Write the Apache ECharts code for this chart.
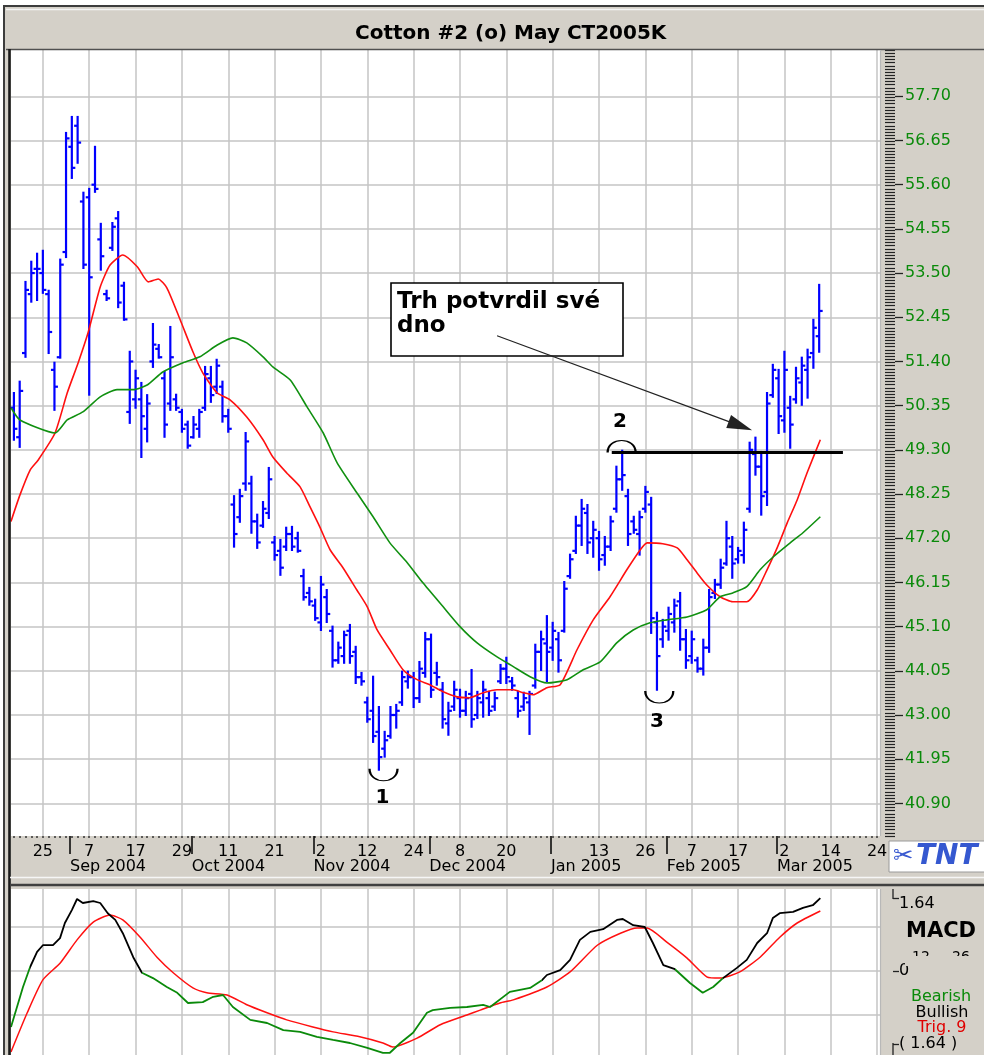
<!DOCTYPE html>
<html><head><meta charset="utf-8">
<script src="https://cdn.jsdelivr.net/npm/echarts@6/dist/echarts.min.js"></script>
<style>
html,body{margin:0;padding:0;background:#fff;overflow:hidden;width:984px;height:1055px;}
#frame{position:absolute;left:3px;top:5px;width:990px;height:1060px;background:#d4d0c8;border:2px solid #3c3c3c;box-sizing:border-box;}
#chart{position:absolute;left:0;top:0;width:984px;height:1055px;}
</style></head><body>
<div id="frame"></div><div id="chart"></div>
<script>
// ---------- categories: trading days ----------
const tradingDays = [
  ['2004-08',[18,19,20,23,24,25,26,27,30,31]],
  ['2004-09',[1,2,3,7,8,9,10,13,14,15,16,17,20,21,22,23,24,27,28,29,30]],
  ['2004-10',[1,4,5,6,7,8,11,12,13,14,15,18,19,20,21,22,25,26,27,28,29]],
  ['2004-11',[1,2,3,4,5,8,9,10,11,12,15,16,17,18,19,22,23,24,29,30]],
  ['2004-12',[1,2,3,6,7,8,9,10,13,14,15,16,17,20,21,22,23,27,28,29,30]],
  ['2005-01',[3,4,5,6,7,10,11,12,13,14,18,19,20,21,24,25,26,27,28,31]],
  ['2005-02',[1,2,3,4,7,8,9,10,11,14,15,16,17,18,22,23,24,25,28]],
  ['2005-03',[1,2,3,4,7,8,9,10,11,14,15,16,17,18,21,22,23,24]]
];
const monthNames = ['Jan','Feb','Mar','Apr','May','Jun','Jul','Aug','Sep','Oct','Nov','Dec'];
const dayTickIdx  = [5,13,21,29,37,45,53,61,69,77,85,93,101,109,117,125,133,141,149];
const dayLabelIdx = [5,13,21,29,37,45,53,61,69,77,85,101,109,117,125,133,141,149];
const priceTicks = [40.90,41.95,43.00,44.05,45.10,46.15,47.20,48.25,49.30,50.35,51.40,52.45,53.50,54.55,55.60,56.65,57.70];

// ---------- OHLC (cents/lb) ----------
const openP = [50.3,49.6,51.6,53.0,53.6,53.5,53.0,51.2,51.5,54.0,
56.5,57.0,55.2,55.3,55.6,54.3,53.0,54.1,54.8,53.2,
50.2,50.5,50.5,49.8,51.4,51.7,51.0,50.4,50.5,50.2,
49.9,49.6,49.8,50.3,51.0,50.8,50.8,50.1,48.0,47.7,
48.5,48.5,47.6,47.5,47.8,47.1,46.9,47.0,47.3,47.2,
46.3,45.9,45.6,45.2,45.8,45.0,44.3,44.4,45.0,44.5,
43.9,43.3,43.1,42.6,42.2,42.5,43.0,43.3,43.8,43.9,
43.4,44.0,44.8,44.0,43.6,42.8,43.2,43.4,43.1,43.5,
43.0,43.3,43.4,43.2,43.8,44.1,43.8,43.4,43.2,43.3,
43.7,44.5,44.7,44.6,44.8,45.0,46.3,46.9,47.5,47.8,
47.2,47.2,46.8,47.0,47.9,48.6,48.2,47.6,47.3,47.9,
48.0,45.2,44.8,45.0,45.2,45.7,44.8,44.4,44.3,44.1,
44.6,45.9,46.1,46.6,47.0,46.7,46.8,47.9,49.2,48.9,
48.3,50.6,51.0,50.0,50.3,50.5,50.9,51.2,51.6,52.0];
const highP = [50.65,50.92,53.29,53.77,53.96,54.03,53.08,51.37,53.82,56.83,
57.21,57.21,55.41,55.50,56.50,54.67,53.08,54.69,54.95,53.27,
51.63,51.18,50.89,50.60,52.29,51.79,51.15,52.22,50.61,50.25,
49.97,50.08,50.25,51.27,51.27,51.44,50.92,50.25,48.20,48.35,
49.70,48.66,47.76,48.06,48.87,47.23,47.16,47.45,47.47,47.33,
46.45,46.02,45.74,46.28,45.97,45.10,44.72,44.98,45.14,44.62,
44.00,43.41,43.91,43.19,42.60,43.19,43.24,44.03,44.03,44.00,
44.26,44.95,44.91,44.24,43.76,43.29,43.79,43.60,43.55,44.07,
43.55,43.79,43.55,43.53,44.19,44.36,43.88,43.55,43.53,43.55,
44.67,44.98,45.35,45.19,44.95,46.16,46.81,47.71,48.11,47.99,
47.59,47.35,47.23,47.71,48.90,49.28,48.35,47.71,47.83,48.42,
48.16,45.43,45.26,45.55,45.74,45.90,45.02,44.98,44.36,44.79,
45.97,46.21,46.69,47.59,47.23,46.97,47.57,49.47,49.59,49.25,
50.65,51.32,51.20,51.63,50.56,51.25,51.49,51.68,52.39,53.22];
const lowP = [49.54,49.37,51.51,52.82,52.86,53.03,51.60,50.25,51.49,53.88,
55.76,56.12,53.62,50.61,55.43,53.58,52.86,54.05,52.69,52.39,
49.94,50.30,49.13,49.50,51.27,51.49,49.61,50.25,50.25,49.73,
49.35,49.59,49.61,50.25,50.44,50.65,49.97,49.73,47.00,47.59,
48.35,47.33,46.97,47.47,47.68,46.69,46.33,46.92,46.92,46.88,
45.74,45.62,45.26,45.02,45.21,44.15,44.24,44.24,44.24,43.76,
43.72,42.84,42.36,41.70,42.01,42.46,42.70,43.24,43.65,43.19,
43.31,43.91,43.43,43.72,42.70,42.53,43.12,42.96,43.00,42.72,
42.93,42.96,43.00,43.12,43.76,43.76,43.60,42.96,43.12,42.55,
43.65,44.07,43.80,44.31,44.03,44.98,46.26,46.85,47.04,46.85,
46.76,46.45,46.57,46.92,47.83,48.35,47.04,47.33,46.81,47.83,
44.95,43.60,44.62,44.79,44.98,44.55,44.12,44.24,44.03,43.96,
44.50,45.78,46.02,46.57,46.26,46.62,46.62,47.83,48.71,47.76,
47.99,50.56,49.70,49.73,49.35,50.42,50.37,50.54,51.25,51.63];
const closeP = [49.8,50.7,53.1,53.5,53.6,53.1,52.1,50.8,53.7,56.7,
56.0,56.6,53.7,53.4,55.5,53.9,52.9,54.6,52.8,52.4,
51.4,51.0,50.1,50.4,51.8,51.5,49.9,51.5,50.3,49.8,
49.4,49.9,50.2,51.1,50.6,51.3,50.1,49.8,47.3,48.2,
49.5,47.6,47.1,47.9,48.6,46.8,46.5,47.3,47.0,46.9,
45.8,45.7,45.3,46.1,45.4,44.3,44.6,44.9,44.4,43.9,
43.8,42.9,42.5,42.0,42.4,43.0,43.1,43.9,43.9,43.4,
44.1,44.8,43.6,43.9,42.9,43.1,43.6,43.1,43.4,42.9,
43.4,43.6,43.1,43.4,44.1,43.9,43.7,43.1,43.4,43.5,
44.5,44.8,44.5,45.0,44.3,46.0,46.7,47.5,47.9,47.1,
47.4,46.7,47.0,47.6,48.6,48.7,47.3,47.4,47.7,48.3,
45.3,44.4,45.1,45.4,45.6,44.8,44.3,44.8,44.1,44.6,
45.8,46.1,46.5,47.2,46.6,46.9,47.4,49.3,48.9,48.2,
50.4,51.2,50.1,51.2,49.9,51.0,51.3,51.5,52.2,52.6];

// ---------- moving averages: [bar index, price] ----------
const redMA = [[-0.5,47.60],[1.05,48.23],[2.8,48.82],[4.2,49.06],[7.1,49.70],[9.2,50.65],[11.1,51.37],[12.8,52.08],[14.9,53.17],[16.6,53.69],[18.8,53.93],[21.3,53.65],[23.2,53.29],[24.9,53.36],[26.4,53.15],[28.7,52.39],[30.9,51.63],[32.6,51.13],[35.1,50.65],[37.3,50.49],[40.2,50.08],[43,49.54],[44.7,49.13],[47.1,48.75],[49.4,48.42],[51.1,47.95],[52.8,47.47],[54.6,46.92],[56.8,46.50],[59.2,45.97],[61,45.57],[62.7,45.02],[64.9,44.55],[67.2,44.07],[69.6,43.84],[71.8,43.72],[74.1,43.55],[76.5,43.43],[78.7,43.41],[81,43.53],[83.4,43.60],[86.2,43.60],[87.9,43.53],[89.6,43.48],[92,43.65],[94.3,43.72],[97.2,44.55],[100,45.26],[102.9,45.81],[105.8,46.45],[108.1,46.92],[109.3,47.09],[112,47.07],[114.5,46.97],[116.2,46.69],[117.9,46.38],[119.6,46.09],[121.9,45.81],[124.1,45.69],[126.5,45.69],[128.3,45.97],[130,46.45],[131.8,46.99],[133.5,47.57],[135.2,48.11],[136.9,48.75],[139.2,49.54]];
const greenMA = [[-0.5,50.30],[1.05,50.01],[7.1,49.70],[9.2,50.01],[11.9,50.20],[14.9,50.56],[17.8,50.73],[20.6,50.73],[23,50.84],[25.7,51.15],[29.2,51.37],[32.1,51.51],[35.1,51.79],[37.8,51.96],[40.2,51.84],[43,51.51],[44.7,51.27],[47.7,50.96],[50.6,50.32],[53.4,49.70],[55.8,48.99],[59.2,48.28],[62,47.71],[64.9,47.09],[67.9,46.62],[70.6,46.14],[74.1,45.57],[77,45.10],[79.9,44.72],[83.4,44.38],[86.2,44.15],[89.1,43.91],[92,43.76],[95.5,43.84],[98.2,44.07],[101.2,44.26],[104.1,44.72],[106.9,45.02],[109.8,45.19],[112.7,45.26],[116.2,45.33],[119.6,45.50],[121.9,45.81],[124.1,45.90],[126.5,46.05],[128.8,46.45],[131.1,46.76],[134,47.09],[136.2,47.33],[139.2,47.71]];

// ---------- MACD (12,26) and trigger (9) ----------
const macdLine = [[-0.5,-1.26],[1.57,-0.36],[2.8,0.09],[4,0.43],[5,0.58],[6.75,0.58],[7.96,0.74],[8.8,1.08],[10,1.37],[10.9,1.62],[11.9,1.53],[13.7,1.57],[14.9,1.53],[16.2,1.30],[17.5,1.15],[18.8,0.85],[20.6,0.31],[22.1,-0.04],[24,-0.16],[26.4,-0.36],[28.2,-0.49],[30.05,-0.72],[32.6,-0.70],[34.4,-0.58],[36.1,-0.54],[37.8,-0.81],[40.8,-1.10],[43.7,-1.17],[46.5,-1.33],[49.4,-1.37],[52.3,-1.48],[55.1,-1.55],[58,-1.62],[61,-1.73],[63.7,-1.84],[64.9,-1.84],[66.7,-1.62],[68.9,-1.39],[71.3,-0.94],[72.3,-0.88],[75.3,-0.83],[78.2,-0.81],[81,-0.76],[82.2,-0.81],[85.6,-0.47],[89.1,-0.38],[91.2,-0.20],[92,-0.09],[94.3,0.02],[96,0.25],[97.7,0.70],[99.5,0.88],[101.7,0.94],[104.1,1.15],[105.1,1.17],[106.9,1.03],[108.9,0.99],[110.3,0.63],[112.1,0.13],[114.1,0.04],[116.7,-0.27],[118.9,-0.49],[120.7,-0.36],[122.4,-0.16],[124.8,0.07],[126.5,0.25],[128.3,0.63],[130,0.85],[131,1.19],[132.2,1.30],[134.5,1.33],[136.2,1.42],[137.9,1.48],[139.2,1.64]];
const signalLine = [[-0.5,-1.82],[2.3,-0.94],[5,-0.20],[8,0.18],[10.9,0.70],[13.7,1.10],[16.6,1.26],[18.8,1.15],[21.8,0.76],[24.7,0.31],[27.5,-0.04],[30.9,-0.38],[33.3,-0.49],[36.8,-0.54],[40.2,-0.76],[43.7,-0.94],[47.1,-1.10],[51.6,-1.26],[55.1,-1.37],[59.7,-1.48],[63.7,-1.62],[65.4,-1.71],[69.6,-1.51],[73.6,-1.21],[78.2,-0.99],[80.5,-0.88],[83.9,-0.72],[86.2,-0.65],[92,-0.36],[96,-0.02],[100.7,0.58],[104.7,0.85],[107.6,0.97],[109.3,0.97],[112.7,0.65],[116.2,0.29],[119.6,-0.13],[121.9,-0.16],[125.3,-0.02],[128.8,0.31],[132.2,0.76],[135.2,1.08],[139.2,1.35]];
// bar positions where the MACD line switches colour (bearish green <-> bullish black), first span bearish
const macdColorBreaks = [2.8, 22.1, 91.2, 114.1, 122.4];
const macdAxisLabels = [1.64, 0, -1.64];
const macdGrid = [-0.99, 0, 0.99];

// ---------- build ----------
const dates = [];
tradingDays.forEach(([ym, days]) => days.forEach(d => dates.push(ym + '-' + String(d).padStart(2,'0'))));
const N = dates.length;
const allIdx = dates.map((d,i)=>i);
const monthStarts = [];
for (let i = 1; i < N; i++) if (dates[i].slice(0,7) !== dates[i-1].slice(0,7)) monthStarts.push(i);
const monthBounds = monthStarts.map(i => i - 0.3);
const ohlc = openP.map((o,i)=>[i, o, highP[i], lowP[i], closeP[i]]);

const GREEN = '#0a8a0a', BLUE = '#0000ff', RED = '#ff1010';
const FONT = 'DejaVu Sans';
const pieces = [];
let prev = -100;
macdColorBreaks.forEach((b,k)=>{ pieces.push({gte: prev, lt: b, color: k%2===0 ? GREEN : '#000'}); prev = b; });
pieces.push({gte: prev, lte: 1000, color: macdColorBreaks.length%2===0 ? GREEN : '#000'});

const gridLineStyle = {color:'#c4c4c4', width:1.5};
const noLine = {show:false, onZero:false};
const xBase = {type:'value', min:-0.5, max:N-0.5, axisLine:noLine};

const smile = 'path://M0,0 C0,14 30,14 30,0';
const frown = 'path://M0,14 C0,0 30,0 30,14';
const arcStyle = {color:'rgba(0,0,0,0)', borderColor:'#000', borderWidth:1.5};
const numLabel = t => ({show:true, position:'inside', formatter:t, fontSize:20, fontWeight:'bold', fontFamily:FONT, color:'#000'});

const chart = echarts.init(document.getElementById('chart'), null, {renderer:'canvas'});
chart.setOption({
  animation:false,
  backgroundColor:'transparent',
  title:{text:'Cotton #2 (o) May CT2005K', left:350, top:19,
    textStyle:{fontFamily:FONT, fontWeight:'bold', fontSize:20, color:'#000'}},
  grid:[
    {left:11, top:50, width:869, height:786, show:true, backgroundColor:'#fff', borderWidth:0, outerBoundsMode:'none'},
    {left:11, top:889, width:869, height:166, show:true, backgroundColor:'#fff', borderWidth:0, outerBoundsMode:'none'}
  ],
  xAxis:[
    Object.assign({}, xBase, {gridIndex:0, position:'bottom',
      axisTick:{show:false, customValues:dayTickIdx},
      splitLine:{show:true, lineStyle:gridLineStyle},
      axisLabel:{customValues:dayLabelIdx, margin:8, fontSize:16, fontFamily:FONT, color:'#000',
        formatter:v=>String(Number(dates[Math.round(v)].slice(8)))}}),
    Object.assign({}, xBase, {gridIndex:0, position:'bottom',
      axisTick:{show:true, customValues:allIdx, length:2, lineStyle:{color:'#333', width:1.5}},
      splitLine:{show:false}, axisLabel:{show:false}}),
    Object.assign({}, xBase, {gridIndex:0, position:'bottom',
      axisTick:{show:true, customValues:monthBounds, length:18, lineStyle:{color:'#000', width:1.5}},
      splitLine:{show:false},
      axisLabel:{customValues:monthBounds, margin:23, align:'left', fontSize:16, fontFamily:FONT, color:'#000',
        formatter:v=>{const d = dates[Math.round(v+0.3)]; return monthNames[Number(d.slice(5,7))-1]+' '+d.slice(0,4);}}}),
    Object.assign({}, xBase, {gridIndex:1, position:'bottom',
      axisTick:{show:false, customValues:dayTickIdx},
      splitLine:{show:true, lineStyle:gridLineStyle}, axisLabel:{show:false}})
  ],
  yAxis:[
    {gridIndex:0, type:'value', position:'right', offset:15, min:40.125, max:58.8,
      axisLine:noLine,
      axisTick:{show:true, customValues:priceTicks, length:8, lineStyle:{color:'#222', width:1.3}},
      splitLine:{show:true, lineStyle:gridLineStyle},
      axisLabel:{customValues:priceTicks, margin:10, fontSize:16, fontFamily:FONT, color:GREEN, formatter:v=>v.toFixed(2)}},
    // dense tick comb next to the price scale (left-type axis pushed to the right edge)
    {gridIndex:0, type:'value', position:'left', offset:-884, min:40.125, max:58.8, interval:0.075,
      axisLine:noLine, axisTick:{show:true, length:10, lineStyle:{color:'#222', width:1.2}},
      splitLine:{show:false}, axisLabel:{show:false}},
    {gridIndex:1, type:'value', position:'left', min:-1.89, max:1.845,
      axisLine:noLine, axisTick:{show:false, customValues:macdGrid},
      splitLine:{show:true, lineStyle:gridLineStyle}, axisLabel:{show:false}},
    {gridIndex:1, type:'value', position:'right', offset:13, min:-1.89, max:1.845,
      axisLine:noLine,
      axisTick:{show:true, customValues:macdAxisLabels, length:6, lineStyle:{color:'#222', width:1.3}},
      splitLine:{show:false},
      axisLabel:{customValues:macdAxisLabels, margin:6, fontSize:16, fontFamily:FONT, color:'#000',
        formatter:v=> v>0 ? '{t|'+v.toFixed(2)+'}' : (v<0 ? '( '+Math.abs(v).toFixed(2)+' )' : '0'),
        rich:{t:{fontSize:16, fontFamily:FONT, color:'#000', padding:[12,0,0,0]}}}}
  ],
  visualMap:[{type:'piecewise', show:false, seriesIndex:3, dimension:0, pieces:pieces}],
  series:[
    {type:'custom', name:'Cotton', xAxisIndex:0, yAxisIndex:0, data:ohlc, encode:{x:0, y:[1,2,3,4]},
      renderItem:(params, api)=>{
        const x = api.value(0);
        const pO = api.coord([x, api.value(1)]), pH = api.coord([x, api.value(2)]);
        const pL = api.coord([x, api.value(3)]), pC = api.coord([x, api.value(4)]);
        const st = {stroke:BLUE, lineWidth:2.2};
        return {type:'group', children:[
          {type:'line', shape:{x1:pH[0], y1:pH[1]-1, x2:pL[0], y2:pL[1]+1}, style:st},
          {type:'line', shape:{x1:pO[0]-3.5, y1:pO[1], x2:pO[0], y2:pO[1]}, style:st},
          {type:'line', shape:{x1:pC[0], y1:pC[1], x2:pC[0]+3.5, y2:pC[1]}, style:st}
        ]};
      }},
    {type:'line', name:'MA fast', xAxisIndex:0, yAxisIndex:0, data:redMA, showSymbol:false, smooth:0.2,
      lineStyle:{color:RED, width:1.6}, z:3,
      markLine:{silent:true, symbol:'none', label:{show:false}, animation:false,
        data:[
          [{coord:[103.2,49.24], lineStyle:{color:'#000', width:3.2, type:'solid'}}, {coord:[143.1,49.24]}],
          [{coord:[83.4,52.01], symbol:'none', lineStyle:{color:'#222', width:1.2, type:'solid'}},
           {coord:[125.4,49.87], symbol:'path://M7,0 L14,25 L0,25 Z', symbolSize:25, symbolKeepAspect:true}]
        ]},
      markPoint:{silent:true, animation:false,
        data:[
          {coord:[63.8,41.58], symbol:smile, symbolSize:[28,12], itemStyle:arcStyle, label:{show:false}},
          {coord:[104.9,49.38], symbol:frown, symbolSize:[28,12], itemStyle:arcStyle, label:{show:false}},
          {coord:[111.4,43.43], symbol:smile, symbolSize:[28,12], itemStyle:arcStyle, label:{show:false}},
          {coord:[63.6,41.03], symbol:'circle', symbolSize:2, itemStyle:{color:'rgba(0,0,0,0)'}, label:numLabel('1')},
          {coord:[104.6,49.97], symbol:'circle', symbolSize:2, itemStyle:{color:'rgba(0,0,0,0)'}, label:numLabel('2')},
          {coord:[111.0,42.84], symbol:'circle', symbolSize:2, itemStyle:{color:'rgba(0,0,0,0)'}, label:numLabel('3')}
        ]}},
    {type:'line', name:'MA slow', xAxisIndex:0, yAxisIndex:0, data:greenMA, showSymbol:false, smooth:0.2,
      lineStyle:{color:'#109010', width:1.6}, z:3},
    {type:'line', name:'MACD', xAxisIndex:3, yAxisIndex:2, data:macdLine, showSymbol:false,
      lineStyle:{width:1.8}, z:4},
    {type:'line', name:'Trig. 9', xAxisIndex:3, yAxisIndex:2, data:signalLine, showSymbol:false, smooth:0.2,
      lineStyle:{color:RED, width:1.5}, z:3}
  ],
  graphic:[
    {type:'line', shape:{x1:6, y1:9.5, x2:984, y2:9.5}, style:{stroke:'#f4f4f4', lineWidth:1.5}, z:5},
    {type:'line', shape:{x1:6, y1:49.5, x2:984, y2:49.5}, style:{stroke:'#505050', lineWidth:1.6}, z:5},
    {type:'line', shape:{x1:9.5, y1:49, x2:9.5, y2:1055}, style:{stroke:'#1a1a1a', lineWidth:2.6}, z:5},
    {type:'line', shape:{x1:880.5, y1:50, x2:880.5, y2:836}, style:{stroke:'#b8b8b8', lineWidth:1.2}, z:5},
    {type:'line', shape:{x1:880.5, y1:889, x2:880.5, y2:1055}, style:{stroke:'#b8b8b8', lineWidth:1.2}, z:5},
    {type:'line', shape:{x1:10, y1:877.5, x2:984, y2:877.5}, style:{stroke:'#f6f6f6', lineWidth:1.5}, z:5},
    {type:'line', shape:{x1:10, y1:885, x2:984, y2:885}, style:{stroke:'#404040', lineWidth:2.5}, z:5},
    {type:'line', shape:{x1:893, y1:889, x2:893, y2:899}, style:{stroke:'#222', lineWidth:1.3}, z:5},
    {type:'line', shape:{x1:893, y1:1043, x2:893, y2:1055}, style:{stroke:'#222', lineWidth:1.3}, z:5},
    // annotation box
    {type:'rect', shape:{x:391, y:283, width:232, height:73}, style:{fill:'#fff', stroke:'#000', lineWidth:1.6}, z:1},
    {type:'text', x:397, y:302, style:{text:'Trh potvrdil své', fontSize:23, fontWeight:'bold', fontFamily:FONT, fill:'#000', verticalAlign:'middle'}, z:1},
    {type:'text', x:397, y:326, style:{text:'dno', fontSize:23, fontWeight:'bold', fontFamily:FONT, fill:'#000', verticalAlign:'middle'}, z:1},
    // MACD panel legend
    {type:'text', x:941, y:932, style:{text:'MACD', fontSize:21, fontWeight:'bold', fontFamily:FONT, fill:'#000', align:'center', verticalAlign:'middle'}, z:6},
    {type:'text', x:921, y:950, style:{text:'12', fontSize:14, fontFamily:FONT, fill:'#000', align:'center', verticalAlign:'top'}, z:6},
    {type:'text', x:961, y:950, style:{text:'26', fontSize:14, fontFamily:FONT, fill:'#000', align:'center', verticalAlign:'top'}, z:6},
    {type:'rect', shape:{x:905, y:956, width:79, height:10}, style:{fill:'#d4d0c8'}, z:7},
    {type:'text', x:941, y:997, style:{text:'Bearish', fontSize:16, fontFamily:FONT, fill:GREEN, align:'center', verticalAlign:'middle'}, z:6},
    {type:'text', x:942, y:1013, style:{text:'Bullish', fontSize:16, fontFamily:FONT, fill:'#000', align:'center', verticalAlign:'middle'}, z:6},
    {type:'text', x:942, y:1028, style:{text:'Trig. 9', fontSize:16, fontFamily:FONT, fill:'#e00000', align:'center', verticalAlign:'middle'}, z:6},
    // TNT logo
    {type:'rect', shape:{x:889, y:841, width:100, height:31}, style:{fill:'#fff', stroke:'#9a9a9a', lineWidth:1}, z:8},
    {type:'text', x:893, y:857, style:{text:'✂', fontSize:24, fontFamily:FONT, fill:'#3a5ad0', verticalAlign:'middle'}, z:9},
    {type:'text', x:916, y:857, style:{text:'TNT', fontSize:28, fontWeight:'bold', fontStyle:'italic', fontFamily:FONT, fill:'#3558d0', verticalAlign:'middle'}, z:9}
  ]
});
</script></body></html>
